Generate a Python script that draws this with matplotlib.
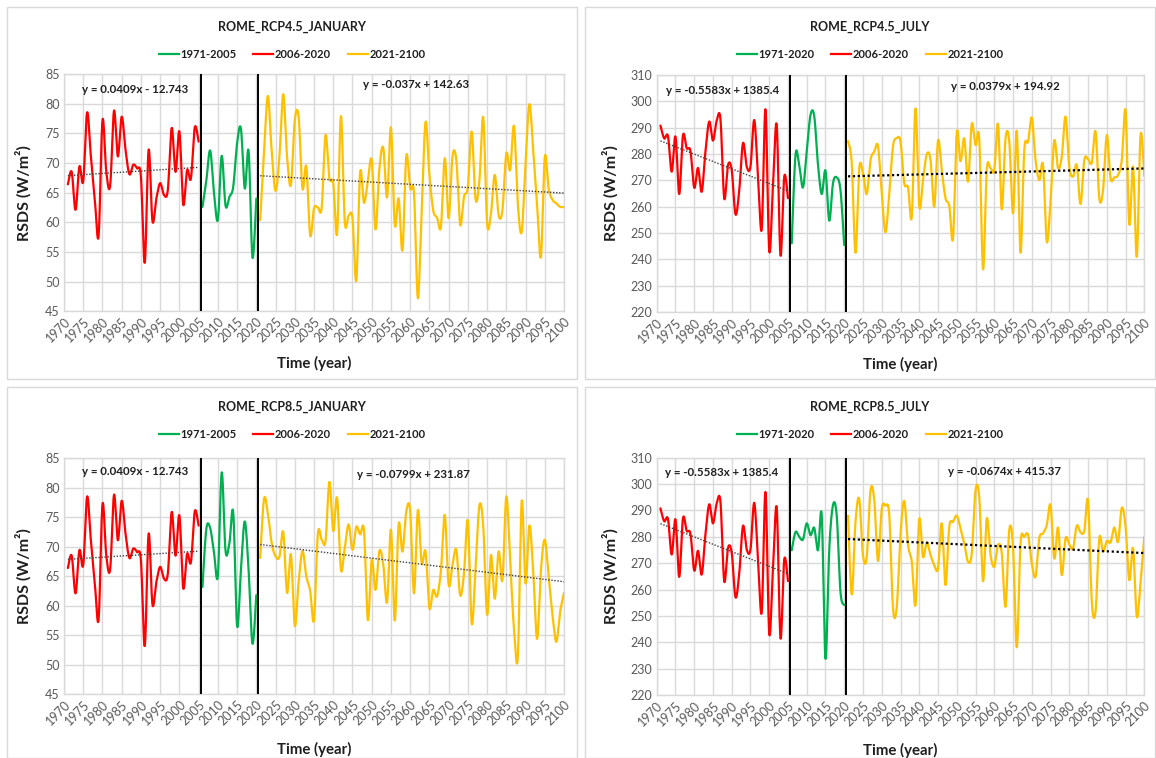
import numpy as np
import matplotlib
matplotlib.use("Agg")
import matplotlib.pyplot as plt
from matplotlib.lines import Line2D
from matplotlib.patches import Rectangle

plt.rcParams['font.family'] = ['Lato', 'DejaVu Sans']

# ---------------------------------------------------------------- data
years_hist = np.arange(1971, 2006)
years_mid = np.arange(2006, 2021)
years_fut = np.arange(2021, 2101)

# January RSDS (W/m2), historical run (same in both scenarios)
hist_jan = [66.4, 68.5, 62.1, 69.4, 66.9, 78.5, 71.0, 64.0, 57.7, 77.2,
            68.5, 66.2, 78.8, 71.1, 77.8, 72.2, 68.1, 69.7, 69.1, 67.7,
            53.2, 72.2, 60.2, 64.0, 66.6, 64.6, 65.5, 75.9, 68.5, 75.3,
            63.0, 68.8, 67.4, 76.0, 73.6]
# July RSDS (W/m2), historical run
hist_jul = [290.8, 285.9, 286.8, 273.3, 286.6, 264.8, 287.0, 282.2, 281.1, 267.2,
            274.7, 265.7, 281.0, 292.3, 285.1, 292.7, 293.2, 263.2, 275.8, 273.9,
            257.1, 266.0, 284.1, 275.2, 275.2, 292.9, 272.0, 251.4, 297.0, 243.3,
            268.0, 291.0, 241.6, 271.4, 263.2]

# RCP4.5
mid_jan45 = [62.6, 67.0, 72.1, 65.0, 60.4, 71.2, 62.8, 64.3, 66.0, 73.3,
             75.8, 65.7, 72.0, 54.1, 64.0]
fut_jan45 = [60.4, 71.6, 81.3, 72.0, 65.3, 71.0, 81.6, 71.0, 66.3, 77.2,
             77.8, 65.7, 69.4, 57.8, 62.4, 62.5, 62.5, 74.7, 67.4, 66.6,
             58.1, 77.9, 60.1, 61.1, 60.7, 50.2, 68.4, 63.3, 67.0, 70.5,
             58.8, 69.0, 72.6, 64.2, 76.0, 59.6, 64.0, 55.3, 71.2, 65.7,
             64.9, 47.2, 62.0, 76.9, 68.0, 62.0, 60.8, 59.3, 70.8, 60.7,
             71.1, 70.5, 59.6, 64.3, 66.0, 75.3, 63.9, 67.0, 77.7, 59.9,
             61.4, 68.0, 61.2, 62.1, 71.6, 68.8, 76.2, 63.0, 58.4, 70.0,
             79.9, 72.0, 63.0, 54.2, 71.0, 65.7, 63.8, 63.2, 62.6, 62.6]
mid_jul45 = [246.1, 279.6, 275.8, 267.3, 281.0, 294.8, 294.4, 276.0, 264.8, 273.7,
             254.7, 268.9, 271.1, 266.3, 245.4]
fut_jul45 = [284.9, 276.5, 242.5, 274.6, 272.7, 264.8, 277.7, 280.9, 283.0, 265.0,
             250.3, 265.0, 283.0, 286.0, 284.7, 268.9, 267.3, 256.2, 297.3, 260.3,
             270.1, 279.9, 277.7, 260.0, 285.1, 273.9, 263.2, 260.3, 248.0, 288.1,
             277.3, 285.9, 269.5, 291.4, 283.4, 285.6, 236.2, 273.9, 274.6, 273.9,
             291.3, 259.0, 286.0, 284.7, 257.5, 288.7, 242.5, 281.5, 284.7, 293.8,
             277.7, 270.1, 275.8, 246.7, 262.0, 285.1, 274.6, 279.0, 294.2, 275.2,
             271.4, 275.8, 261.0, 277.7, 278.0, 276.7, 288.5, 263.2, 266.3, 287.2,
             270.8, 271.1, 272.0, 277.7, 296.5, 253.4, 275.2, 241.0, 287.2, 271.6]

# RCP8.5
mid_jan85 = [63.2, 73.0, 73.2, 69.0, 65.1, 82.6, 69.3, 70.6, 75.8, 56.6,
             66.0, 74.3, 66.0, 53.6, 61.8]
fut_jan85 = [68.1, 78.1, 75.7, 70.6, 68.4, 68.3, 72.5, 62.2, 68.7, 56.6,
             64.0, 69.3, 65.0, 62.5, 57.6, 72.2, 71.2, 71.0, 81.0, 72.7,
             78.3, 66.1, 69.8, 73.8, 69.5, 73.4, 72.1, 72.7, 57.6, 67.8,
             62.7, 69.3, 67.0, 60.6, 72.9, 57.5, 73.8, 69.2, 76.0, 76.1,
             62.1, 76.2, 67.2, 69.2, 59.6, 62.7, 61.6, 66.0, 75.4, 63.6,
             66.9, 69.5, 61.8, 65.5, 74.4, 57.0, 66.4, 77.0, 73.5, 58.5,
             68.6, 61.2, 69.2, 64.4, 78.5, 67.5, 56.0, 51.4, 77.7, 63.8,
             73.6, 65.8, 54.4, 66.0, 71.2, 65.0, 58.4, 53.9, 59.0, 62.2]
mid_jul85 = [274.9, 281.8, 280.0, 279.0, 285.1, 280.6, 283.4, 274.9, 288.2, 233.8,
             275.0, 292.0, 288.0, 259.0, 254.1]
fut_jul85 = [288.0, 258.1, 285.7, 294.3, 273.0, 272.4, 297.6, 294.0, 270.8, 290.5,
             291.8, 288.2, 252.8, 253.4, 281.0, 293.6, 276.9, 270.6, 254.1, 286.7,
             272.4, 277.9, 273.1, 269.3, 268.0, 285.1, 261.7, 283.8, 285.7, 288.0,
             283.2, 277.5, 270.6, 273.7, 297.6, 294.8, 263.2, 287.0, 273.1, 268.7,
             276.9, 273.7, 253.5, 282.6, 276.2, 238.1, 277.5, 280.0, 280.7, 269.9,
             264.9, 279.4, 281.3, 284.5, 292.0, 271.8, 283.5, 265.5, 279.4, 277.1,
             275.6, 284.2, 281.7, 282.2, 293.6, 255.4, 251.6, 279.4, 274.4, 278.4,
             277.9, 283.5, 278.1, 291.0, 283.8, 263.6, 275.6, 249.7, 263.0, 280.0]

# linear trend equations (slope, intercept) with x = year
trend_hist_jan = (0.0409, -12.743)
trend_hist_jul = (-0.5583, 1385.4)
trend_jan45 = (-0.037, 142.63)
trend_jul45 = (0.0379, 194.92)
trend_jan85 = (-0.0799, 231.87)
trend_jul85 = (-0.0674, 415.37)

titles = ['ROME_RCP4.5_JANUARY', 'ROME_RCP4.5_JULY',
          'ROME_RCP8.5_JANUARY', 'ROME_RCP8.5_JULY']
legend_jan = ['1971-2005', '2006-2020', '2021-2100']
legend_jul = ['1971-2020', '2006-2020', '2021-2100']
x_ticks = list(range(1970, 2101, 5))
y_ticks_jan = list(range(45, 86, 5))
y_ticks_jul = list(range(220, 311, 10))
x_label = 'Time (year)'
y_label = 'RSDS (W/m²)'

# ---------------------------------------------------------------- style
GREEN = '#00B050'
RED = '#FF0000'
YELLOW = '#FFC000'
GRID = '#D9D9D9'
TICK = '#595959'
TEXT = '#1F1F1F'
W, H = 1156, 758


def smooth(x, y, n=20):
    """Bezier smoothing through every point (spreadsheet-style smoothed line)."""
    x = np.asarray(x, float)
    y = np.asarray(y, float)
    px = np.concatenate([[x[0]], x, [x[-1]]])
    py = np.concatenate([[y[0]], y, [y[-1]]])
    t = np.linspace(0, 1, n, endpoint=False)[:, None]
    a0 = px[1:-2], py[1:-2]
    a3 = px[2:-1], py[2:-1]
    c1 = (px[1:-2] + (px[2:-1] - px[:-3]) / 6, py[1:-2] + (py[2:-1] - py[:-3]) / 6)
    c2 = (px[2:-1] - (px[3:] - px[1:-2]) / 6, py[2:-1] - (py[3:] - py[1:-2]) / 6)
    out = []
    for k in range(2):
        b = ((1 - t) ** 3 * a0[k] + 3 * (1 - t) ** 2 * t * c1[k]
             + 3 * (1 - t) * t ** 2 * c2[k] + t ** 3 * a3[k])
        out.append(np.concatenate([b.T.ravel(), [a3[k][-1]]]))
    return out


def px_rect(x0, y0, x1, y1):
    return [x0 / W, 1 - y1 / H, (x1 - x0) / W, (y1 - y0) / H]


panels = [
    dict(title=titles[0], labels=legend_jan, hist=hist_jan, mid=mid_jan45, fut=fut_jan45,
         t_hist=trend_hist_jan, t_fut=trend_jan45, yticks=y_ticks_jan,
         ax=px_rect(64, 74, 564, 311.3), box=(7, 7, 577, 379), heavy=False,
         eq1=(0.142, 0.935), eq2=(0.705, 0.954), ylab_x=-0.064, xlab_y=-0.19),
    dict(title=titles[1], labels=legend_jul, hist=hist_jul, mid=mid_jul45, fut=fut_jul45,
         t_hist=trend_hist_jul, t_fut=trend_jul45, yticks=y_ticks_jul,
         ax=px_rect(656.7, 75, 1144.3, 312), box=(585, 7, 1155, 379), heavy=True,
         eq1=(0.135, 0.935), eq2=(0.716, 0.95), ylab_x=-0.078, xlab_y=-0.19),
    dict(title=titles[2], labels=legend_jan, hist=hist_jan, mid=mid_jan85, fut=fut_jan85,
         t_hist=trend_hist_jan, t_fut=trend_jan85, yticks=y_ticks_jan,
         ax=px_rect(64, 458.3, 564, 694.3), box=(7, 387, 577, 758), heavy=False,
         eq1=(0.142, 0.942), eq2=(0.699, 0.932), ylab_x=-0.064, xlab_y=-0.2),
    dict(title=titles[3], labels=legend_jul, hist=hist_jul, mid=mid_jul85, fut=fut_jul85,
         t_hist=trend_hist_jul, t_fut=trend_jul85, yticks=y_ticks_jul,
         ax=px_rect(656.7, 457.7, 1144.3, 695), box=(585, 387, 1155, 758), heavy=True,
         eq1=(0.134, 0.938), eq2=(0.713, 0.943), ylab_x=-0.078, xlab_y=-0.2),
]

fig = plt.figure(figsize=(W / 100, H / 100), dpi=100)
fig.patch.set_facecolor('white')


def eq_text(slope, icpt):
    sign = '+' if icpt >= 0 else '-'
    return f'y = {slope:g}x {sign} {abs(icpt):g}'


for p in panels:
    x0, y0, x1, y1 = p['box']
    fig.add_artist(Rectangle((x0 / W, 1 - y1 / H), (x1 - x0) / W, (y1 - y0) / H,
                             transform=fig.transFigure, fill=False,
                             edgecolor=GRID, linewidth=1.0))
    ax = fig.add_axes(p['ax'])
    ax.set_xlim(1970, 2100)
    ax.set_ylim(p['yticks'][0], p['yticks'][-1])
    ax.set_xticks(x_ticks)
    ax.set_yticks(p['yticks'])
    ax.grid(True, color=GRID, linewidth=1.0)
    ax.set_axisbelow(True)
    for s in ax.spines.values():
        s.set_color(GRID)
        s.set_linewidth(1.0)
    ax.tick_params(length=0, labelsize=9, labelcolor=TICK, pad=3)
    for lab in ax.get_xticklabels():
        lab.set_rotation(45)
        lab.set_ha('right')
        lab.set_rotation_mode('anchor')

    for yrs, vals, col in ((years_hist, p['hist'], RED),
                           (years_mid, p['mid'], GREEN),
                           (years_fut, p['fut'], YELLOW)):
        sx, sy = smooth(yrs, vals)
        ax.plot(sx, sy, color=col, linewidth=1.6, solid_capstyle='round', zorder=3)

    # linear trends
    m, c = p['t_hist']
    xt = np.array([years_hist[0], years_hist[-1]], float)
    ax.plot(xt, m * xt + c, color='#404040', linestyle=(0, (1, 1.2)),
            linewidth=1.0, zorder=4)
    m, c = p['t_fut']
    xt = np.array([years_fut[0], years_fut[-1]], float)
    if p['heavy']:
        ax.plot(xt, m * xt + c, color='black', linestyle=(0, (1, 1.2)),
                linewidth=1.6, zorder=4)
    else:
        ax.plot(xt, m * xt + c, color='#404040', linestyle=(0, (1, 1.2)),
                linewidth=1.0, zorder=4)

    # period separators
    for xv in (2005.5, 2020.5):
        ax.axvline(xv, color='black', linewidth=1.4, zorder=5)

    ax.text(*p['eq1'], eq_text(*p['t_hist']), transform=ax.transAxes,
            ha='center', va='center', fontsize=8.3, fontweight='bold', color=TEXT)
    ax.text(*p['eq2'], eq_text(*p['t_fut']), transform=ax.transAxes,
            ha='center', va='center', fontsize=8.3, fontweight='bold', color=TEXT)

    ax.set_xlabel(x_label, fontsize=10.8, fontweight='bold', color=TEXT)
    ax.set_ylabel(y_label, fontsize=11.5, fontweight='bold', color=TEXT)
    ax.xaxis.set_label_coords(0.5, p['xlab_y'])
    ax.yaxis.set_label_coords(p['ylab_x'], 0.5)

    cx = (x0 + x1) / 2 / W
    fig.text(cx, 1 - (y0 + 20) / H, p['title'], ha='center', va='center',
             fontsize=9, fontweight='bold', color=TEXT)
    handles = [Line2D([], [], color=GREEN, linewidth=1.6),
               Line2D([], [], color=RED, linewidth=1.6),
               Line2D([], [], color=YELLOW, linewidth=1.6)]
    fig.legend(handles, p['labels'], loc='center', ncol=3, frameon=False,
               bbox_to_anchor=(cx, 1 - (y0 + 47) / H),
               prop=dict(size=8, weight='bold'), labelcolor=TEXT,
               handlelength=1.8, handletextpad=0.15, columnspacing=1.5)

fig.savefig('out.png', dpi=100, facecolor='white')
